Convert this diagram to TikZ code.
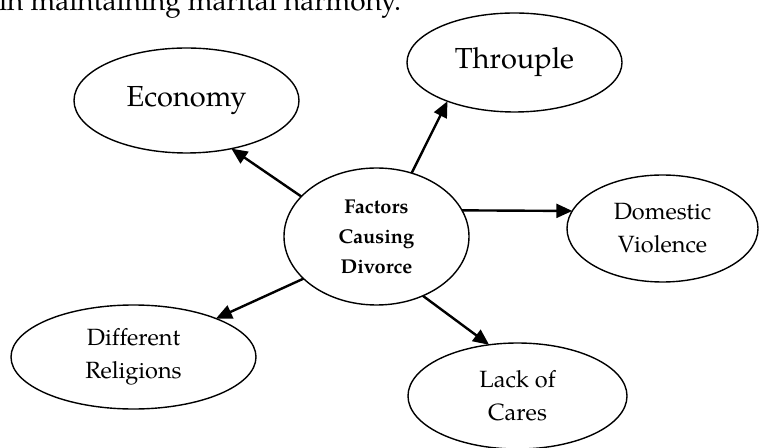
\documentclass[tikz,border=0pt]{standalone}
\usepackage{fontspec}
\setmainfont{texgyrepagella}[Extension=.otf,UprightFont=*-regular,BoldFont=*-bold,Ligatures=NoCommon]
\usetikzlibrary{shapes.geometric,arrows.meta}

\begin{document}
\begin{tikzpicture}[x=1pt,y=1pt,
  oval/.style={draw,ellipse,line width=1.4pt,inner sep=0pt,outer sep=0pt,align=center,
    font=\fontsize{23.5}{33}\selectfont},
  arr/.style={line width=2.4pt,-{Triangle[length=16pt,width=14pt]}}]
\useasboundingbox (0,0) rectangle (759,447);
\node[anchor=base west,font=\fontsize{28}{34}\selectfont,inner sep=0pt] (intro) at (-1,436) {in maintaining marital harmony.};
\node[oval,minimum width=185pt,minimum height=137pt,font=\fontsize{20}{30}\selectfont\bfseries] (factors) at (376.5,210.5) {Factors\\Causing\\Divorce};
\node[oval,minimum width=225pt,minimum height=105pt,font=\fontsize{29}{35}\selectfont] (economy) at (186.5,346.5) {Economy};
\node[oval,minimum width=215pt,minimum height=99pt,font=\fontsize{29}{35}\selectfont] (throuple) at (514.5,384.5) {Throuple};
\node[oval,minimum width=191pt,minimum height=107pt] (domestic) at (662.5,218.5) {Domestic\\Violence};
\node[oval,minimum width=245pt,minimum height=104pt] (religions) at (133.5,90) {Different\\Religions};
\node[oval,minimum width=219pt,minimum height=106pt] (cares) at (517.5,51) {Lack of\\Cares};
\draw[arr] (factors.152.1) -- (economy.313.9);
\draw[arr] (factors.61.8) -- (throuple.210);
\draw[arr] (factors.17.8) -- (domestic.169.3);
\draw[arr] (factors.210.1) -- (religions.25.3);
\draw[arr] (factors.308.8) -- (cares.119.9);
\end{tikzpicture}
\end{document}
